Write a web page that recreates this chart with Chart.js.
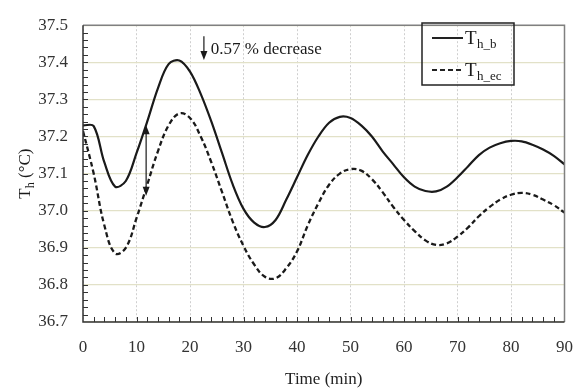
<!DOCTYPE html>
<html>
<head>
<meta charset="utf-8">
<script src="https://cdn.jsdelivr.net/npm/chart.js@4/dist/chart.umd.min.js"></script>
<style>
  html, body { margin: 0; padding: 0; background: #fff; }
  #wrap { width: 588px; height: 390px; position: relative; }
</style>
</head>
<body>
<div id="wrap"><canvas id="thChart"></canvas></div>
<script>
// tiempo (min), cada 2 minutos
const tiempo = [0, 2, 4, 6, 8, 10, 12, 14, 16, 18, 20, 22, 24, 26, 28, 30, 32, 34, 36, 38, 40, 42, 44, 46, 48, 50, 52, 54, 56, 58, 60, 62, 64, 66, 68, 70, 72, 74, 76, 78, 80, 82, 84, 86, 88, 90];

// temperaturas
const tempB = [37.23, 37.228, 37.13, 37.065, 37.08, 37.155, 37.24, 37.33, 37.395, 37.405, 37.375, 37.315, 37.24, 37.155, 37.07, 37.005, 36.968, 36.956, 36.975, 37.03, 37.09, 37.15, 37.2, 37.237, 37.253, 37.25, 37.23, 37.2, 37.16, 37.125, 37.09, 37.065, 37.053, 37.052, 37.065, 37.09, 37.12, 37.15, 37.17, 37.182, 37.188, 37.187, 37.178, 37.165, 37.148, 37.125];
const tempEc = [37.215, 37.1, 36.96, 36.885, 36.9, 36.98, 37.07, 37.16, 37.23, 37.262, 37.25, 37.2, 37.13, 37.05, 36.97, 36.905, 36.855, 36.822, 36.818, 36.845, 36.89, 36.96, 37.02, 37.07, 37.1, 37.112, 37.108, 37.085, 37.05, 37.01, 36.975, 36.945, 36.92, 36.908, 36.912, 36.93, 36.955, 36.985, 37.01, 37.03, 37.043, 37.048, 37.043, 37.03, 37.015, 36.995];

const xTicks = [0, 10, 20, 30, 40, 50, 60, 70, 80, 90];
const yTicks = [36.7, 36.8, 36.9, 37.0, 37.1, 37.2, 37.3, 37.4, 37.5];

const serif = '"Liberation Serif", "Times New Roman", serif';
const ink = '#1a1a1a';

const puntos = (xs, ys) => xs.map((x, i) => ({ x: x, y: ys[i] }));

// dibuja flechas, texto, leyenda, ticks menores y marco
const extras = {
  id: 'extras',
  afterDraw(chart) {
    const ctx = chart.ctx;
    const xs = chart.scales.x, ys = chart.scales.y;
    const a = chart.chartArea;
    const px = v => xs.getPixelForValue(v);
    const py = v => ys.getPixelForValue(v);

    ctx.save();
    // marco superior y derecho
    ctx.strokeStyle = '#808080';
    ctx.lineWidth = 1.5;
    ctx.beginPath();
    ctx.moveTo(a.left, a.top); ctx.lineTo(a.right, a.top); ctx.lineTo(a.right, a.bottom);
    ctx.stroke();

    // ejes izquierdo e inferior
    ctx.strokeStyle = '#333';
    ctx.lineWidth = 1.5;
    ctx.beginPath();
    ctx.moveTo(a.left, a.top); ctx.lineTo(a.left, a.bottom); ctx.lineTo(a.right, a.bottom);
    ctx.stroke();

    // ticks hacia adentro
    ctx.lineWidth = 1;
    ctx.beginPath();
    for (let t = 2; t < 90; t += 2) {
      const x = Math.round(px(t)) + 0.5;
      ctx.moveTo(x, a.bottom); ctx.lineTo(x, a.bottom - 5);
    }
    for (let k = 1; k < 40; k++) {
      const y = Math.round(py(36.7 + k * 0.02)) + 0.5;
      ctx.moveTo(a.left, y); ctx.lineTo(a.left + 5, y);
    }
    ctx.stroke();

    const flecha = (x, y, dir) => {
      ctx.beginPath();
      ctx.moveTo(x, y);
      ctx.lineTo(x - 3.5, y - dir * 9);
      ctx.lineTo(x + 3.5, y - dir * 9);
      ctx.closePath();
      ctx.fill();
    };

    // flecha doble
    ctx.fillStyle = ink;
    ctx.strokeStyle = ink;
    ctx.lineWidth = 1.2;
    const xa = px(11.8), y1 = py(37.23), y2 = py(37.04);
    ctx.beginPath(); ctx.moveTo(xa, y1 + 6); ctx.lineTo(xa, y2 - 6); ctx.stroke();
    flecha(xa, y1, -1);
    flecha(xa, y2, 1);

    // flecha de la disminucion
    const xd = px(22.6), yd1 = py(37.47), yd2 = py(37.406);
    ctx.beginPath(); ctx.moveTo(xd, yd1); ctx.lineTo(xd, yd2 - 6); ctx.stroke();
    flecha(xd, yd2, 1);
    ctx.font = '17px ' + serif;
    ctx.textAlign = 'left';
    ctx.textBaseline = 'alphabetic';
    ctx.fillText('0.57 % decrease', px(23.9), py(37.422));

    // leyenda
    const lx = 422, ly = 23, lw = 92, lh = 62;
    ctx.lineWidth = 1.5;
    ctx.strokeStyle = '#222';
    ctx.strokeRect(lx, ly, lw, lh);
    const items = [
      { sub: 'h_b', dash: [] },
      { sub: 'h_ec', dash: [5, 3] }
    ];
    items.forEach((it, i) => {
      const yy = ly + 15 + i * 32;
      ctx.setLineDash(it.dash);
      ctx.lineWidth = 2;
      ctx.beginPath(); ctx.moveTo(lx + 10, yy); ctx.lineTo(lx + 41, yy); ctx.stroke();
      ctx.setLineDash([]);
      ctx.font = '19px ' + serif;
      ctx.fillText('T', lx + 43, yy + 6);
      ctx.font = '13px ' + serif;
      ctx.fillText(it.sub, lx + 55, yy + 10);
    });

    // titulo del eje y
    ctx.translate(30, (a.top + a.bottom) / 2);
    ctx.rotate(-Math.PI / 2);
    ctx.textAlign = 'left';
    ctx.font = '17px ' + serif;
    const wT = ctx.measureText('T').width;
    ctx.font = '12px ' + serif;
    const wh = ctx.measureText('h').width;
    ctx.font = '17px ' + serif;
    const wR = ctx.measureText(' (°C)').width;
    let x0 = -(wT + wh + wR) / 2;
    ctx.fillText('T', x0, 0);
    ctx.font = '12px ' + serif;
    ctx.fillText('h', x0 + wT, 4);
    ctx.font = '17px ' + serif;
    ctx.fillText(' (°C)', x0 + wT + wh, 0);
    ctx.restore();
  }
};

const chart = new Chart(document.getElementById('thChart'), {
  type: 'line',
  data: {
    datasets: [{
      label: 'T_h_b',
      data: puntos(tiempo, tempB),
      borderColor: ink,
      borderWidth: 2.2,
      pointRadius: 0,
      tension: 0.35,
      fill: false
    }, {
      label: 'T_h_ec',
      data: puntos(tiempo, tempEc),
      borderColor: ink,
      borderWidth: 2.3,
      borderDash: [5, 3],
      pointRadius: 0,
      tension: 0.4,
      fill: false
    }]
  },
  options: {
    responsive: true,
    maintainAspectRatio: false,
    animation: false,
    layout: { padding: { top: 16, right: 10, left: 0, bottom: 0 } },
    plugins: {
      legend: { display: false },
      tooltip: { enabled: false }
    },
    scales: {
      x: {
        type: 'linear',
        min: 0, max: 90,
        afterFit: s => { s.height = 68; },
        afterBuildTicks: s => { s.ticks = xTicks.map(v => ({ value: v })); },
        ticks: {
          color: '#333',
          padding: 15,
          maxRotation: 0,
          font: { family: serif, size: 17 }
        },
        grid: { color: '#cfcfcf', lineWidth: 1, drawTicks: false },
        border: { display: false, dash: [2, 2] },
        title: {
          display: true,
          text: 'Time (min)',
          color: '#222',
          padding: { top: 5, bottom: 0 },
          font: { family: serif, size: 17 }
        }
      },
      y: {
        min: 36.7, max: 37.5,
        afterFit: s => { s.width = 83; },
        afterBuildTicks: s => { s.ticks = yTicks.map(v => ({ value: v })); },
        ticks: {
          color: '#333',
          padding: 15,
          font: { family: serif, size: 17 },
          callback: v => Number(v).toFixed(1)
        },
        grid: { color: '#e2e1c8', lineWidth: 1.2, drawTicks: false },
        border: { display: false }
      }
    }
  },
  plugins: [extras]
});
</script>
</body>
</html>
